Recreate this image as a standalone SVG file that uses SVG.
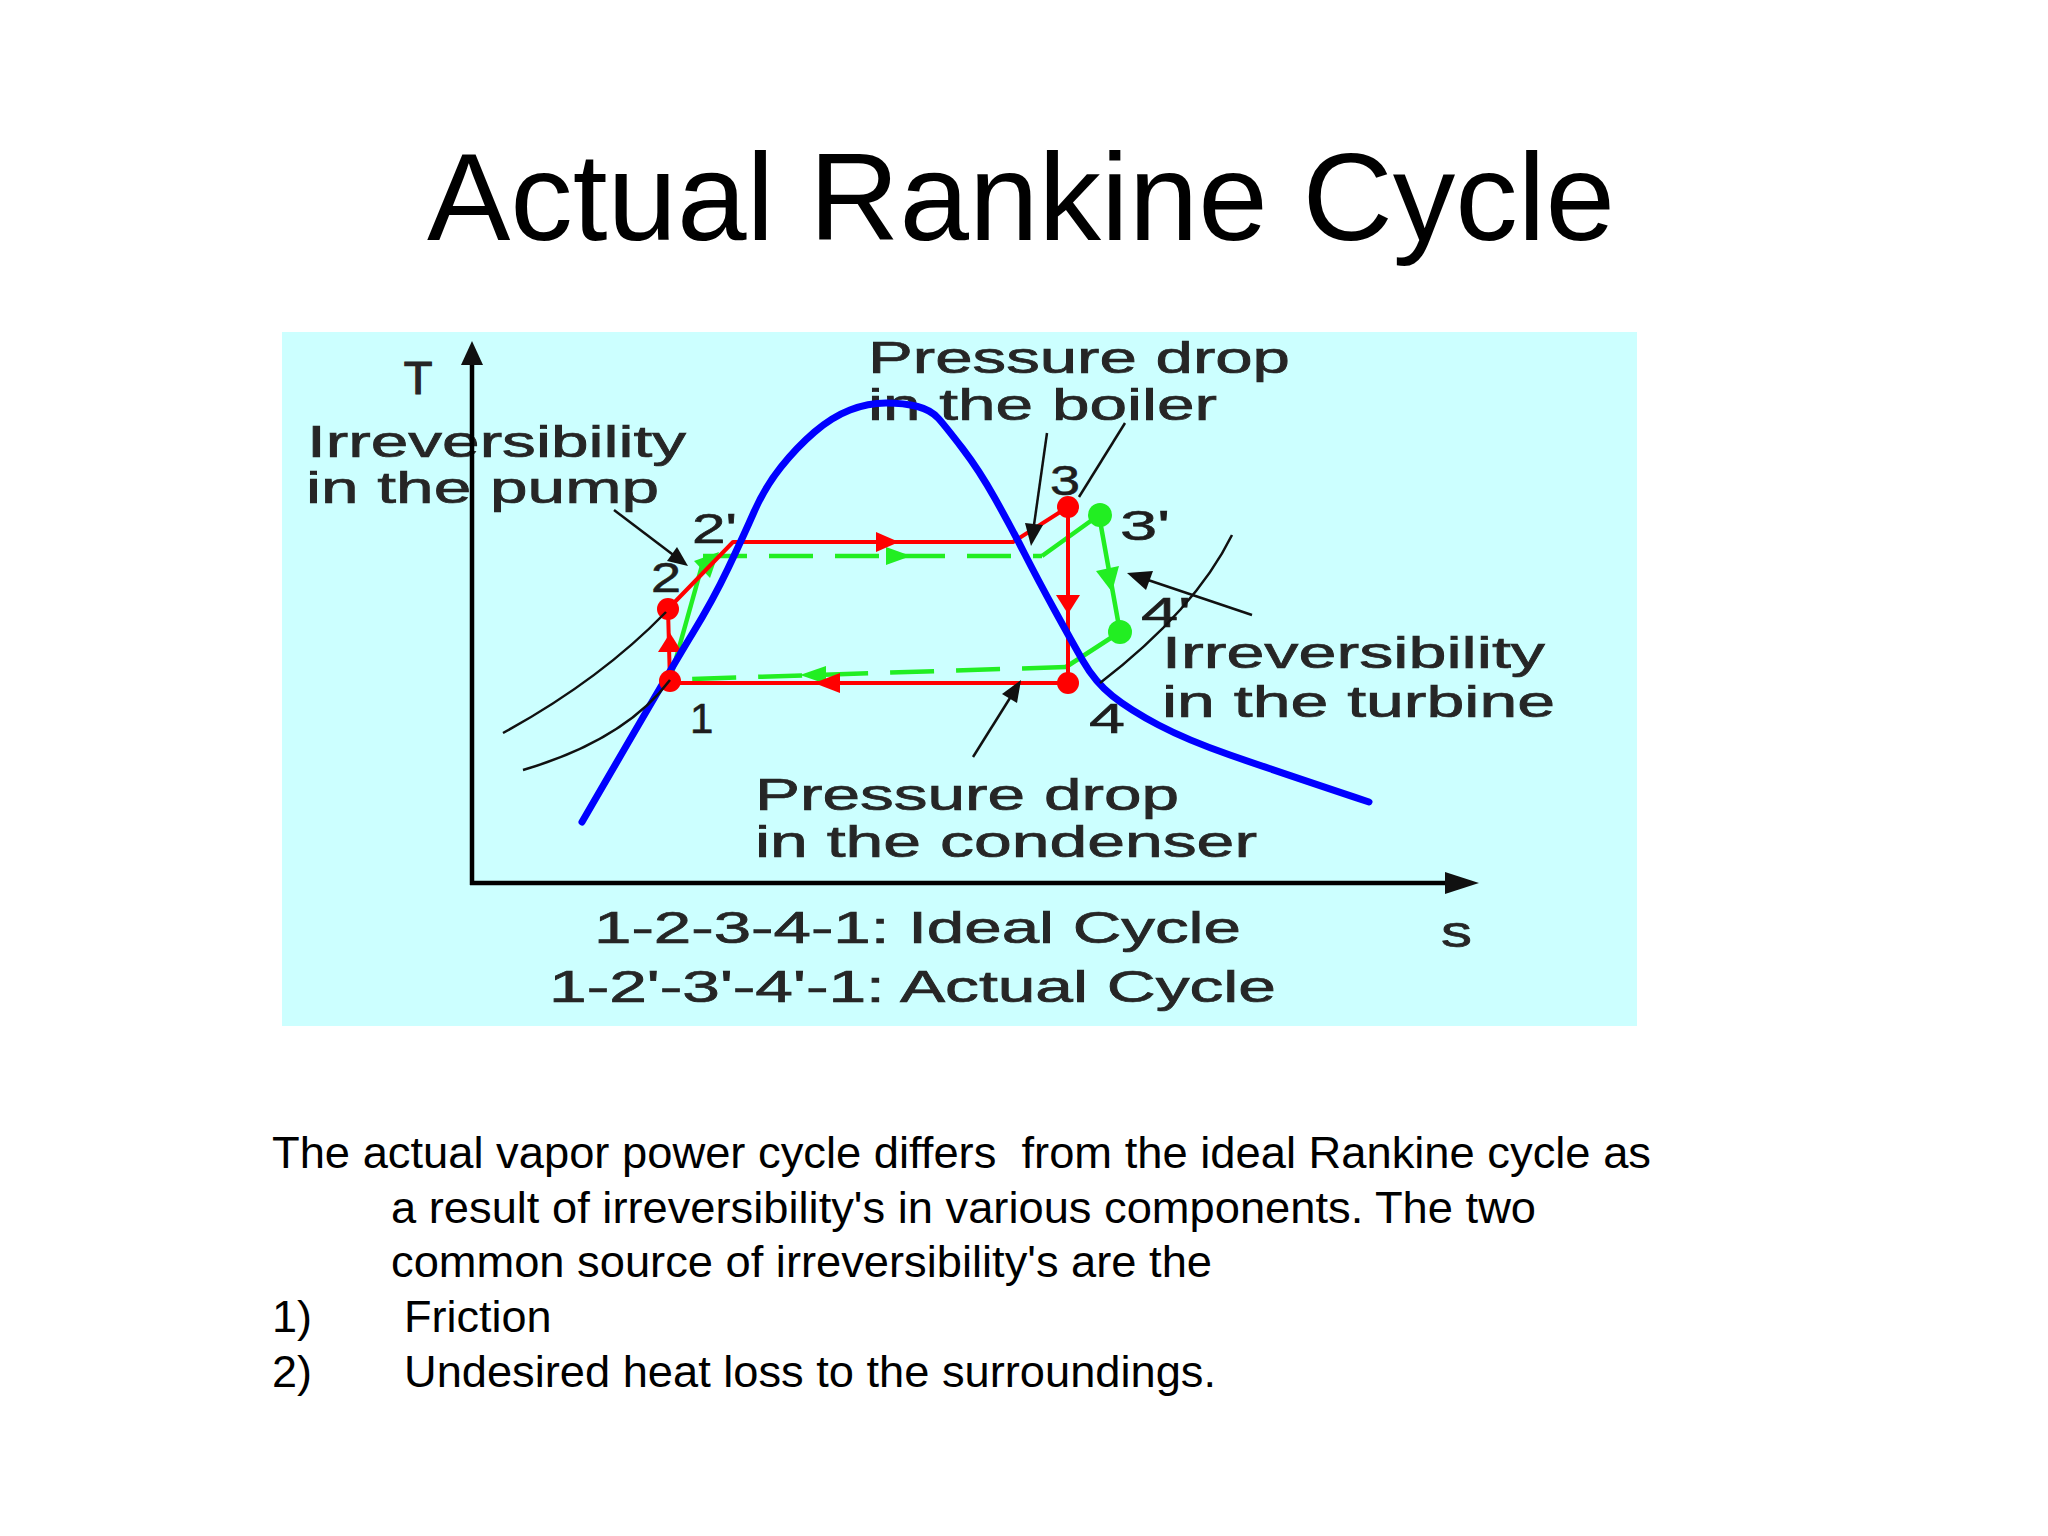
<svg xmlns="http://www.w3.org/2000/svg" width="2048" height="1536" viewBox="0 0 2048 1536">
<style>
.title{font-family:"Liberation Sans",Arial,sans-serif;font-size:125px;fill:#000}
.body{font-family:"Liberation Sans",Arial,sans-serif;font-size:45px;fill:#000}
.lbl{font-family:"Liberation Sans",Arial,sans-serif;font-size:44px;fill:#262626;stroke:#262626;stroke-width:0.7}
.num{font-family:"Liberation Sans",Arial,sans-serif;font-size:42px;fill:#1e1e1e;stroke:#1e1e1e;stroke-width:0.6}
.red{fill:none;stroke:#ff0000;stroke-width:4;stroke-linejoin:round}
.grn{fill:none;stroke:#22ee22;stroke-width:4.5;stroke-linejoin:round}
.dash{stroke-dasharray:44 22}
.blue{fill:none;stroke:#0000ff;stroke-width:7;stroke-linecap:round;stroke-linejoin:round}
.lead{fill:none;stroke:#111;stroke-width:2.5}
.axis{fill:none;stroke:#000;stroke-width:4.5}
.rf{fill:#ff0000}
.gf{fill:#22ee22}
.kf{fill:#111}
</style>
<rect width="2048" height="1536" fill="#ffffff"/>
<text class="title" x="1021" y="240" text-anchor="middle">Actual Rankine Cycle</text>

<g id="chart">
<rect id="panel" x="282" y="332" width="1355" height="694" fill="#ccffff"/>

<g id="labels">
<text class="lbl" x="418" y="394" text-anchor="middle" style="font-size:47px;stroke-width:1.2">T</text>
<text class="lbl" x="307" y="457" textLength="379" lengthAdjust="spacingAndGlyphs">Irreversibility</text>
<text class="lbl" x="306" y="503" textLength="353" lengthAdjust="spacingAndGlyphs">in the pump</text>
<text class="lbl" x="868" y="373" textLength="422" lengthAdjust="spacingAndGlyphs">Pressure drop</text>
<text class="lbl" x="868" y="420" textLength="349" lengthAdjust="spacingAndGlyphs">in the boiler</text>
<text class="lbl" x="1162" y="668" textLength="383" lengthAdjust="spacingAndGlyphs">Irreversibility</text>
<text class="lbl" x="1162" y="717" textLength="393" lengthAdjust="spacingAndGlyphs">in the turbine</text>
<text class="lbl" x="755" y="810" textLength="424" lengthAdjust="spacingAndGlyphs">Pressure drop</text>
<text class="lbl" x="755" y="857" textLength="502" lengthAdjust="spacingAndGlyphs">in the condenser</text>
<text class="lbl" x="594" y="943" textLength="647" lengthAdjust="spacingAndGlyphs">1-2-3-4-1: Ideal Cycle</text>
<text class="lbl" x="549" y="1002" textLength="727" lengthAdjust="spacingAndGlyphs">1-2'-3'-4'-1: Actual Cycle</text>
<text class="lbl" x="1441" y="947" textLength="31" lengthAdjust="spacingAndGlyphs">s</text>
</g>

<g id="axes">
<line class="axis" x1="472" y1="360" x2="472" y2="885"/>
<line class="axis" x1="470" y1="883" x2="1450" y2="883"/>
<polygon class="kf" points="472,341 461,365 483,365"/>
<polygon class="kf" points="1479,883 1445,872 1445,894"/>
</g>

<g id="actual-cycle">
<polyline class="grn" points="670,680 703,562"/>
<polyline class="grn dash" points="703,556 1042,556"/>
<polyline class="grn" points="1042,556 1099,515 1120,632 1066,667"/>
<polyline class="grn dash" points="1066,667 690,679"/>
<polygon class="gf" points="719,552 694,561 710,578"/>
<polygon class="gf" points="911,556 886,547 886,565"/>
<polygon class="gf" points="800,675 826,666 826,684"/>
<polygon class="gf" points="1112,592 1096,571 1119,566"/>
</g>

<g id="ideal-cycle">
<polyline class="red" points="670,683 668,609 733,542 1013,542 1068,507 1068,683 670,683"/>
<polygon class="rf" points="899,542 876,532 876,552"/>
<polygon class="rf" points="814,683 840,673 840,693"/>
<polygon class="rf" points="670,633 658,652 682,652"/>
<polygon class="rf" points="1068,614 1056,595 1080,595"/>
</g>

<path id="saturation-dome" class="blue" d="M582,822 Q672,667 692.5,633.5 Q713,600 728,568.5 Q743,537 754,512 Q765,487 781,467 Q797,447 814.5,432 Q832,417 850,410 Q868,403 886,403 Q904,403 917.5,406.5 Q931,410 938.5,418.5 Q946,427 962.5,448.5 Q979,470 995,498.5 Q1011,527 1024.5,553.5 Q1038,580 1054.5,610 Q1071,640 1083,661 Q1095,682 1112.5,696 Q1130,710 1158.5,725 Q1187,740 1230,755 Q1273,770 1369,802"/>

<g id="state-points">
<circle class="rf" cx="668" cy="609" r="11"/>
<circle class="rf" cx="670" cy="681" r="11"/>
<circle class="rf" cx="1068" cy="507" r="11"/>
<circle class="rf" cx="1068" cy="683" r="11"/>
<circle class="gf" cx="1100" cy="515" r="12"/>
<circle class="gf" cx="1120" cy="632" r="12"/>
<text class="num" x="692" y="543" textLength="45" lengthAdjust="spacingAndGlyphs">2'</text>
<text class="num" x="651" y="592" textLength="30" lengthAdjust="spacingAndGlyphs">2</text>
<text class="num" x="690" y="733">1</text>
<text class="num" x="1050" y="495" textLength="30" lengthAdjust="spacingAndGlyphs">3</text>
<text class="num" x="1120" y="540" textLength="50" lengthAdjust="spacingAndGlyphs">3'</text>
<text class="num" x="1141" y="627" textLength="50" lengthAdjust="spacingAndGlyphs">4'</text>
<text class="num" x="1089" y="733" textLength="36" lengthAdjust="spacingAndGlyphs">4</text>
</g>

<g id="connectors">
<line class="lead" x1="614" y1="510" x2="676" y2="557"/>
<polygon class="kf" points="688,566 667,561 677,547"/>
<path class="lead" d="M503,733 Q600,680 666,612"/>
<path class="lead" d="M523,770 Q625,740 670,680"/>
<line class="lead" x1="1047" y1="433" x2="1034" y2="525"/>
<polygon class="kf" points="1031,546 1025,523 1043,525"/>
<line class="lead" x1="1125" y1="423" x2="1079" y2="497"/>
<line class="lead" x1="1252" y1="615" x2="1148" y2="580"/>
<polygon class="kf" points="1127,573 1153,571 1146,590"/>
<path class="lead" d="M1232,535 Q1195,610 1100,683"/>
<line class="lead" x1="973" y1="757" x2="1010" y2="698"/>
<polygon class="kf" points="1021,680 1017,703 1002,694"/>
</g>
</g>

<g id="body-text">
<text class="body" x="272" y="1168" xml:space="preserve" textLength="1379" lengthAdjust="spacingAndGlyphs">The actual vapor power cycle differs  from the ideal Rankine cycle as</text>
<text class="body" x="391" y="1223" textLength="1145" lengthAdjust="spacingAndGlyphs">a result of irreversibility's in various components. The two</text>
<text class="body" x="391" y="1277" textLength="821" lengthAdjust="spacingAndGlyphs">common source of irreversibility's are the</text>
<text class="body" x="272" y="1332">1)</text>
<text class="body" x="404" y="1332">Friction</text>
<text class="body" x="272" y="1387">2)</text>
<text class="body" x="404" y="1387" textLength="812" lengthAdjust="spacingAndGlyphs">Undesired heat loss to the surroundings.</text>
</g>
</svg>
